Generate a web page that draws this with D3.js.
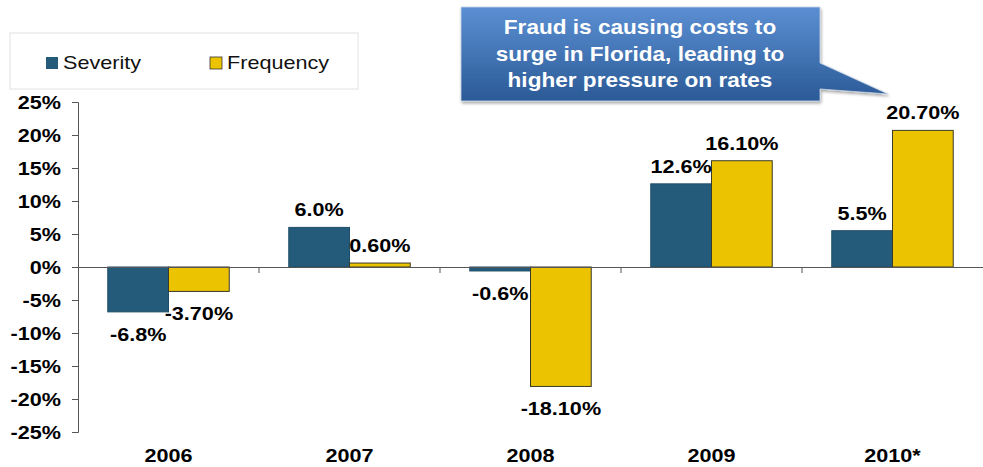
<!DOCTYPE html>
<html>
<head>
<meta charset="utf-8">
<script src="https://cdn.jsdelivr.net/npm/d3@7"></script>
<style>
  body { margin: 0; background: #fff; }
  svg { display: block; font-family: "Liberation Sans", Arial, sans-serif; }
</style>
</head>
<body>
<div id="chart"></div>
<script>
const years = ["2006", "2007", "2008", "2009", "2010*"];
const severity = [-6.8, 6.0, -0.6, 12.6, 5.5];
const frequency = [-3.7, 0.6, -18.1, 16.1, 20.7];
const severityLabels = ["-6.8%", "6.0%", "-0.6%", "12.6%", "5.5%"];
const frequencyLabels = ["-3.70%", "0.60%", "-18.10%", "16.10%", "20.70%"];
const yTicks = [25, 20, 15, 10, 5, 0, -5, -10, -15, -20, -25];
const seriesNames = ["Severity", "Frequency"];
const calloutLines = ["Fraud is causing costs to", "surge in Florida, leading to", "higher pressure on rates"];

const width = 983;
const height = 467;
const stretch = 1.2;

const svg = d3.select("#chart")
    .append("svg")
    .attr("width", width)
    .attr("height", height);

const margin = { top: 102, right: 0, bottom: 35, left: 78 };

const xScale = d3.scaleBand()
    .domain(years)
    .range([margin.left, width])
    .paddingInner(0)
    .paddingOuter(0);

const subScale = d3.scaleBand()
    .domain(seriesNames)
    .range([0, xScale.bandwidth()])
    .paddingOuter(0.49)
    .paddingInner(0);

const yScale = d3.scaleLinear()
    .domain([-25, 25])
    .range([432, 102]);

const colors = { Severity: "#245b7b", Frequency: "#ebc300" };

const rows = years.map((y, i) => ({
    year: y,
    values: [
        { key: "Severity", value: severity[i], label: severityLabels[i] },
        { key: "Frequency", value: frequency[i], label: frequencyLabels[i] }
    ]
}));

// stretched text helper (source image is horizontally stretched)
const addText = (sel, x, y, txt, opts) => {
    return sel.append("text")
        .attr("transform", `translate(${x},${y}) scale(${opts.sx || stretch},1)`)
        .attr("text-anchor", opts.anchor || "middle")
        .attr("font-size", opts.size || 18)
        .attr("font-weight", opts.weight || "bold")
        .attr("fill", opts.fill || "#000")
        .text(txt);
};

// y axis
const yAxisG = svg.append("g")
    .attr("transform", `translate(${margin.left},0)`)
    .call(d3.axisLeft(yScale).tickValues(yTicks).tickSize(6).tickFormat(""));
yAxisG.select(".domain").attr("stroke", "#555");
yAxisG.selectAll("line").attr("stroke", "#555");

yTicks.forEach(t => {
    addText(svg, 61, yScale(t) + 6.5, `${t}%`, { anchor: "end" });
});

// bars
const groups = svg.selectAll(".grp").data(rows)
    .enter().append("g")
    .attr("class", "grp")
    .attr("transform", d => `translate(${xScale(d.year)},0)`);

groups.selectAll("rect").data(d => d.values)
    .enter().append("rect")
    .attr("x", d => subScale(d.key))
    .attr("y", d => yScale(Math.max(0, d.value)))
    .attr("width", subScale.bandwidth())
    .attr("height", d => Math.abs(yScale(d.value) - yScale(0)))
    .attr("fill", d => colors[d.key])
    .attr("stroke", d => d.key === "Frequency" ? "#3a3a2a" : "#1f4d68")
    .attr("stroke-width", 1);

// x axis line and ticks
const xAxisG = svg.append("g")
    .attr("transform", `translate(0,${yScale(0)})`)
    .call(d3.axisBottom(xScale).tickSize(0).tickFormat(""));
xAxisG.select(".domain").attr("stroke", "#555");
xScale.domain().slice(1).forEach(y => {
    xAxisG.append("line")
        .attr("x1", xScale(y)).attr("x2", xScale(y))
        .attr("y1", 0).attr("y2", 6)
        .attr("stroke", "#555");
});

// category labels
years.forEach(y => {
    addText(svg, xScale(y) + xScale.bandwidth() / 2, 462, y, {});
});

// value labels
groups.each(function (d) {
    const g = d3.select(this);
    d.values.forEach(v => {
        const cx = subScale(v.key) + subScale.bandwidth() / 2;
        const yy = v.value >= 0 ? yScale(v.value) - 11 : yScale(v.value) + 29;
        addText(g, cx, yy, v.label, {});
    });
});

// legend
const legend = svg.append("g");
legend.append("rect")
    .attr("x", 10).attr("y", 33)
    .attr("width", 348).attr("height", 56)
    .attr("fill", "#fff")
    .attr("stroke", "#e2e2e2");
const legendX = [46, 210];
seriesNames.forEach((s, i) => {
    legend.append("rect")
        .attr("x", legendX[i]).attr("y", 57)
        .attr("width", 12).attr("height", 12)
        .attr("fill", colors[s])
        .attr("stroke", s === "Frequency" ? "#333" : "none")
        .attr("stroke-width", 0.8);
    addText(legend, legendX[i] + 17, 69, s, { anchor: "start", weight: "normal", fill: "#111" });
});

// callout
const defs = svg.append("defs");
const grad = defs.append("linearGradient")
    .attr("id", "calloutGrad")
    .attr("x1", 0).attr("y1", 0).attr("x2", 0).attr("y2", 1);
grad.append("stop").attr("offset", "0%").attr("stop-color", "#5b8fd3");
grad.append("stop").attr("offset", "100%").attr("stop-color", "#2b5a96");
const shadow = defs.append("filter").attr("id", "shadow")
    .attr("x", "-10%").attr("y", "-10%").attr("width", "130%").attr("height", "130%");
shadow.append("feDropShadow")
    .attr("dx", 1).attr("dy", 2).attr("stdDeviation", 1.5)
    .attr("flood-color", "#000").attr("flood-opacity", 0.35);

svg.append("path")
    .attr("d", "M461,7 L820,7 L820,63 L888,94 L820,89 L820,101 L461,101 Z")
    .attr("fill", "url(#calloutGrad)")
    .attr("stroke", "#c8d4e6")
    .attr("stroke-width", 0.8)
    .attr("filter", "url(#shadow)");

calloutLines.forEach((line, i) => {
    addText(svg, 640, 34 + i * 26.5, line, { size: 20, fill: "#fff", sx: 1.13 });
});
</script>
</body>
</html>
